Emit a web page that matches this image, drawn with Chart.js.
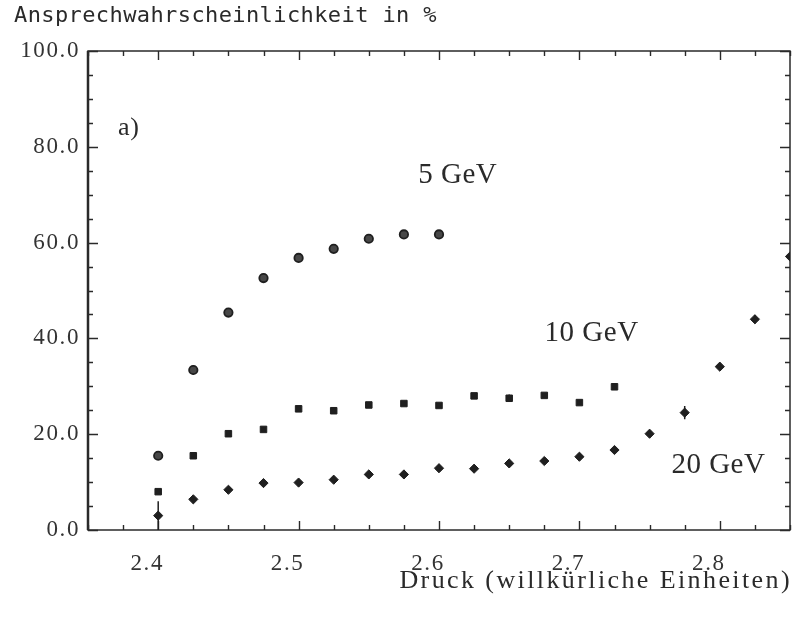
<!DOCTYPE html>
<html><head><meta charset="utf-8">
<script src="https://cdn.jsdelivr.net/npm/chart.js@4"></script>
<style>html,body{margin:0;padding:0;background:#fff}canvas{display:block}</style>
</head><body>
<canvas id="c" width="796" height="620"></canvas>
<script>
// ---- data ----
const seriesNames = ['5 GeV', '10 GeV', '20 GeV'];
const x5  = [2.4, 2.425, 2.45, 2.475, 2.5, 2.525, 2.55, 2.575, 2.6];
const y5  = [15.5, 33.4, 45.4, 52.6, 56.8, 58.7, 60.8, 61.7, 61.7];
const e5  = [0.6, 1.0, 0.6, 0.4, 0.4, 0.8, 0.4, 0.3, 0.3];
const x10 = [2.4, 2.425, 2.45, 2.475, 2.5, 2.525, 2.55, 2.575, 2.6, 2.625, 2.65, 2.675, 2.7, 2.725];
const y10 = [8.0, 15.5, 20.1, 21.0, 25.3, 24.9, 26.1, 26.4, 26.0, 28.0, 27.5, 28.1, 26.6, 29.9];
const e10 = [0, 0, 0, 0, 0, 0, 0, 0, 0, 0, 0.8, 0, 0, 0];
const x20 = [2.4, 2.425, 2.45, 2.475, 2.5, 2.525, 2.55, 2.575, 2.6, 2.625, 2.65, 2.675, 2.7, 2.725, 2.75, 2.775, 2.8, 2.825, 2.85];
const y20 = [3.0, 6.4, 8.4, 9.8, 9.9, 10.5, 11.6, 11.6, 12.9, 12.8, 13.9, 14.4, 15.3, 16.7, 20.1, 24.5, 34.1, 44.0, 57.1];
const e20 = [3.0, 0.6, 0, 0, 0, 0.5, 0, 0.6, 0, 0, 0, 0, 0, 0, 0, 1.4, 0.8, 0.9, 0];
const xTickLabels = ['2.4', '2.5', '2.6', '2.7', '2.8'];
const yTickLabels = ['0.0', '20.0', '40.0', '60.0', '80.0', '100.0'];
const yTitle = 'Ansprechwahrscheinlichkeit in %';
const xTitle = 'Druck (willkürliche Einheiten)';
// annotation texts and anchors in data units
const noteText = ['a)', '5 GeV', '10 GeV', '20 GeV'];
const noteX = [2.379, 2.6134, 2.7087, 2.799];
const noteY = [83.8, 74.0, 41.1, 13.4];

const ink = '#1f1f1f';
const pts = (xs, ys) => xs.map((v, i) => ({x: v, y: ys[i]}));

function isMajorX(v){ return Math.abs(v*10 - Math.round(v*10)) < 1e-6; }
function isMajorY(v){ return Math.abs(v % 20) < 1e-6; }

const spacing = {
  id: 'spacing',
  beforeDraw(chart){ chart.ctx.letterSpacing = '1.6px'; },
  afterDraw(chart){ chart.ctx.letterSpacing = '0px'; }
};

const frameTicks = {
  id: 'frameTicks',
  beforeDatasetsDraw(chart){
    const {ctx, chartArea: a, scales: {x, y}} = chart;
    ctx.save();
    ctx.strokeStyle = '#2a2a2a';
    ctx.lineWidth = 1.5;
    ctx.strokeRect(a.left, a.top, a.right - a.left, a.bottom - a.top);
    ctx.lineWidth = 2.5;
    ctx.beginPath(); ctx.moveTo(a.left, a.top); ctx.lineTo(a.left, a.bottom); ctx.stroke();
    ctx.lineWidth = 1.4;
    ctx.beginPath();
    x.ticks.forEach(t => {
      const px = Math.round(x.getPixelForValue(t.value)) + 0.5;
      const L = isMajorX(t.value) ? 9 : 5;
      ctx.moveTo(px, a.bottom); ctx.lineTo(px, a.bottom - L);
      ctx.moveTo(px, a.top); ctx.lineTo(px, a.top + L);
    });
    y.ticks.forEach(t => {
      const py = Math.round(y.getPixelForValue(t.value)) + 0.5;
      const L = isMajorY(t.value) ? 10 : 5;
      ctx.moveTo(a.left, py); ctx.lineTo(a.left + L, py);
      ctx.moveTo(a.right, py); ctx.lineTo(a.right - L, py);
    });
    ctx.stroke();
    // error bars
    ctx.lineWidth = 1.5;
    ctx.strokeStyle = ink;
    chart.data.datasets.forEach(ds => {
      ctx.beginPath();
      ds.data.forEach((p, i) => {
        const e = ds.errors[i];
        if (!e) return;
        const px = x.getPixelForValue(p.x);
        ctx.moveTo(px, y.getPixelForValue(p.y - e));
        ctx.lineTo(px, y.getPixelForValue(p.y + e));
      });
      ctx.stroke();
    });
    ctx.restore();
  }
};

const texts = {
  id: 'texts',
  afterDraw(chart){
    const {ctx, scales: {x, y}} = chart;
    ctx.save();
    ctx.fillStyle = '#2a2a2a';
    ctx.textBaseline = 'middle';
    ctx.textAlign = 'left';
    ctx.font = '22px "DejaVu Sans Mono"';
    ctx.letterSpacing = '0.4px';
    ctx.fillText(yTitle, 14, 16);
    ctx.font = '26px "Liberation Serif"';
    ctx.letterSpacing = '2.4px';
    ctx.textAlign = 'right';
    ctx.fillText(xTitle, 792, 581);
    ctx.letterSpacing = '0.5px';
    ctx.textAlign = 'center';
    noteText.forEach((t, i) => {
      ctx.font = (i === 0 ? '26px' : '29px') + ' "Liberation Serif"';
      ctx.fillText(t, x.getPixelForValue(noteX[i]), y.getPixelForValue(noteY[i]));
    });
    ctx.restore();
  }
};

const tickFont = {family: '"Liberation Serif"', size: 23};

new Chart(document.getElementById('c'), {
  type: 'scatter',
  data: {
    datasets: [
      {label: seriesNames[0], data: pts(x5, y5), errors: e5, pointStyle: 'circle', pointRadius: 4.2,
       backgroundColor: '#474747', borderColor: ink, borderWidth: 1.8},
      {label: seriesNames[1], data: pts(x10, y10), errors: e10, pointStyle: 'rect', pointRadius: 4.6,
       backgroundColor: ink, borderColor: ink, borderWidth: 1},
      {label: seriesNames[2], data: pts(x20, y20), errors: e20, pointStyle: 'rectRot', pointRadius: 4.6,
       backgroundColor: ink, borderColor: ink, borderWidth: 1}
    ]
  },
  options: {
    responsive: false,
    animation: false,
    events: [],
    layout: {padding: {top: 51, right: 1, left: 0, bottom: 0}},
    plugins: {legend: {display: false}, title: {display: false}, tooltip: {enabled: false}},
    scales: {
      x: {
        type: 'linear', min: 2.35, max: 2.85,
        border: {display: false},
        grid: {display: false, drawTicks: false},
        ticks: {
          stepSize: 0.025, autoSkip: false, maxRotation: 0, padding: 20, labelOffset: -11,
          color: '#333', font: tickFont,
          callback: (v) => {
            if (!isMajorX(v)) return '';
            const s = v.toFixed(1);
            return xTickLabels.includes(s) ? s : '';
          }
        },
        afterFit: (s) => { s.height = 90; s.paddingLeft = 0; s.paddingRight = 0; }
      },
      y: {
        type: 'linear', min: 0, max: 100,
        border: {display: false},
        grid: {display: false, drawTicks: false},
        ticks: {
          stepSize: 5, autoSkip: false, padding: 8,
          color: '#333', font: tickFont,
          callback: (v) => {
            if (!isMajorY(v)) return '';
            const s = v.toFixed(1);
            return yTickLabels.includes(s) ? s : '';
          }
        },
        afterFit: (s) => { s.width = 88; }
      }
    }
  },
  plugins: [spacing, frameTicks, texts]
});
</script>
</body></html>
